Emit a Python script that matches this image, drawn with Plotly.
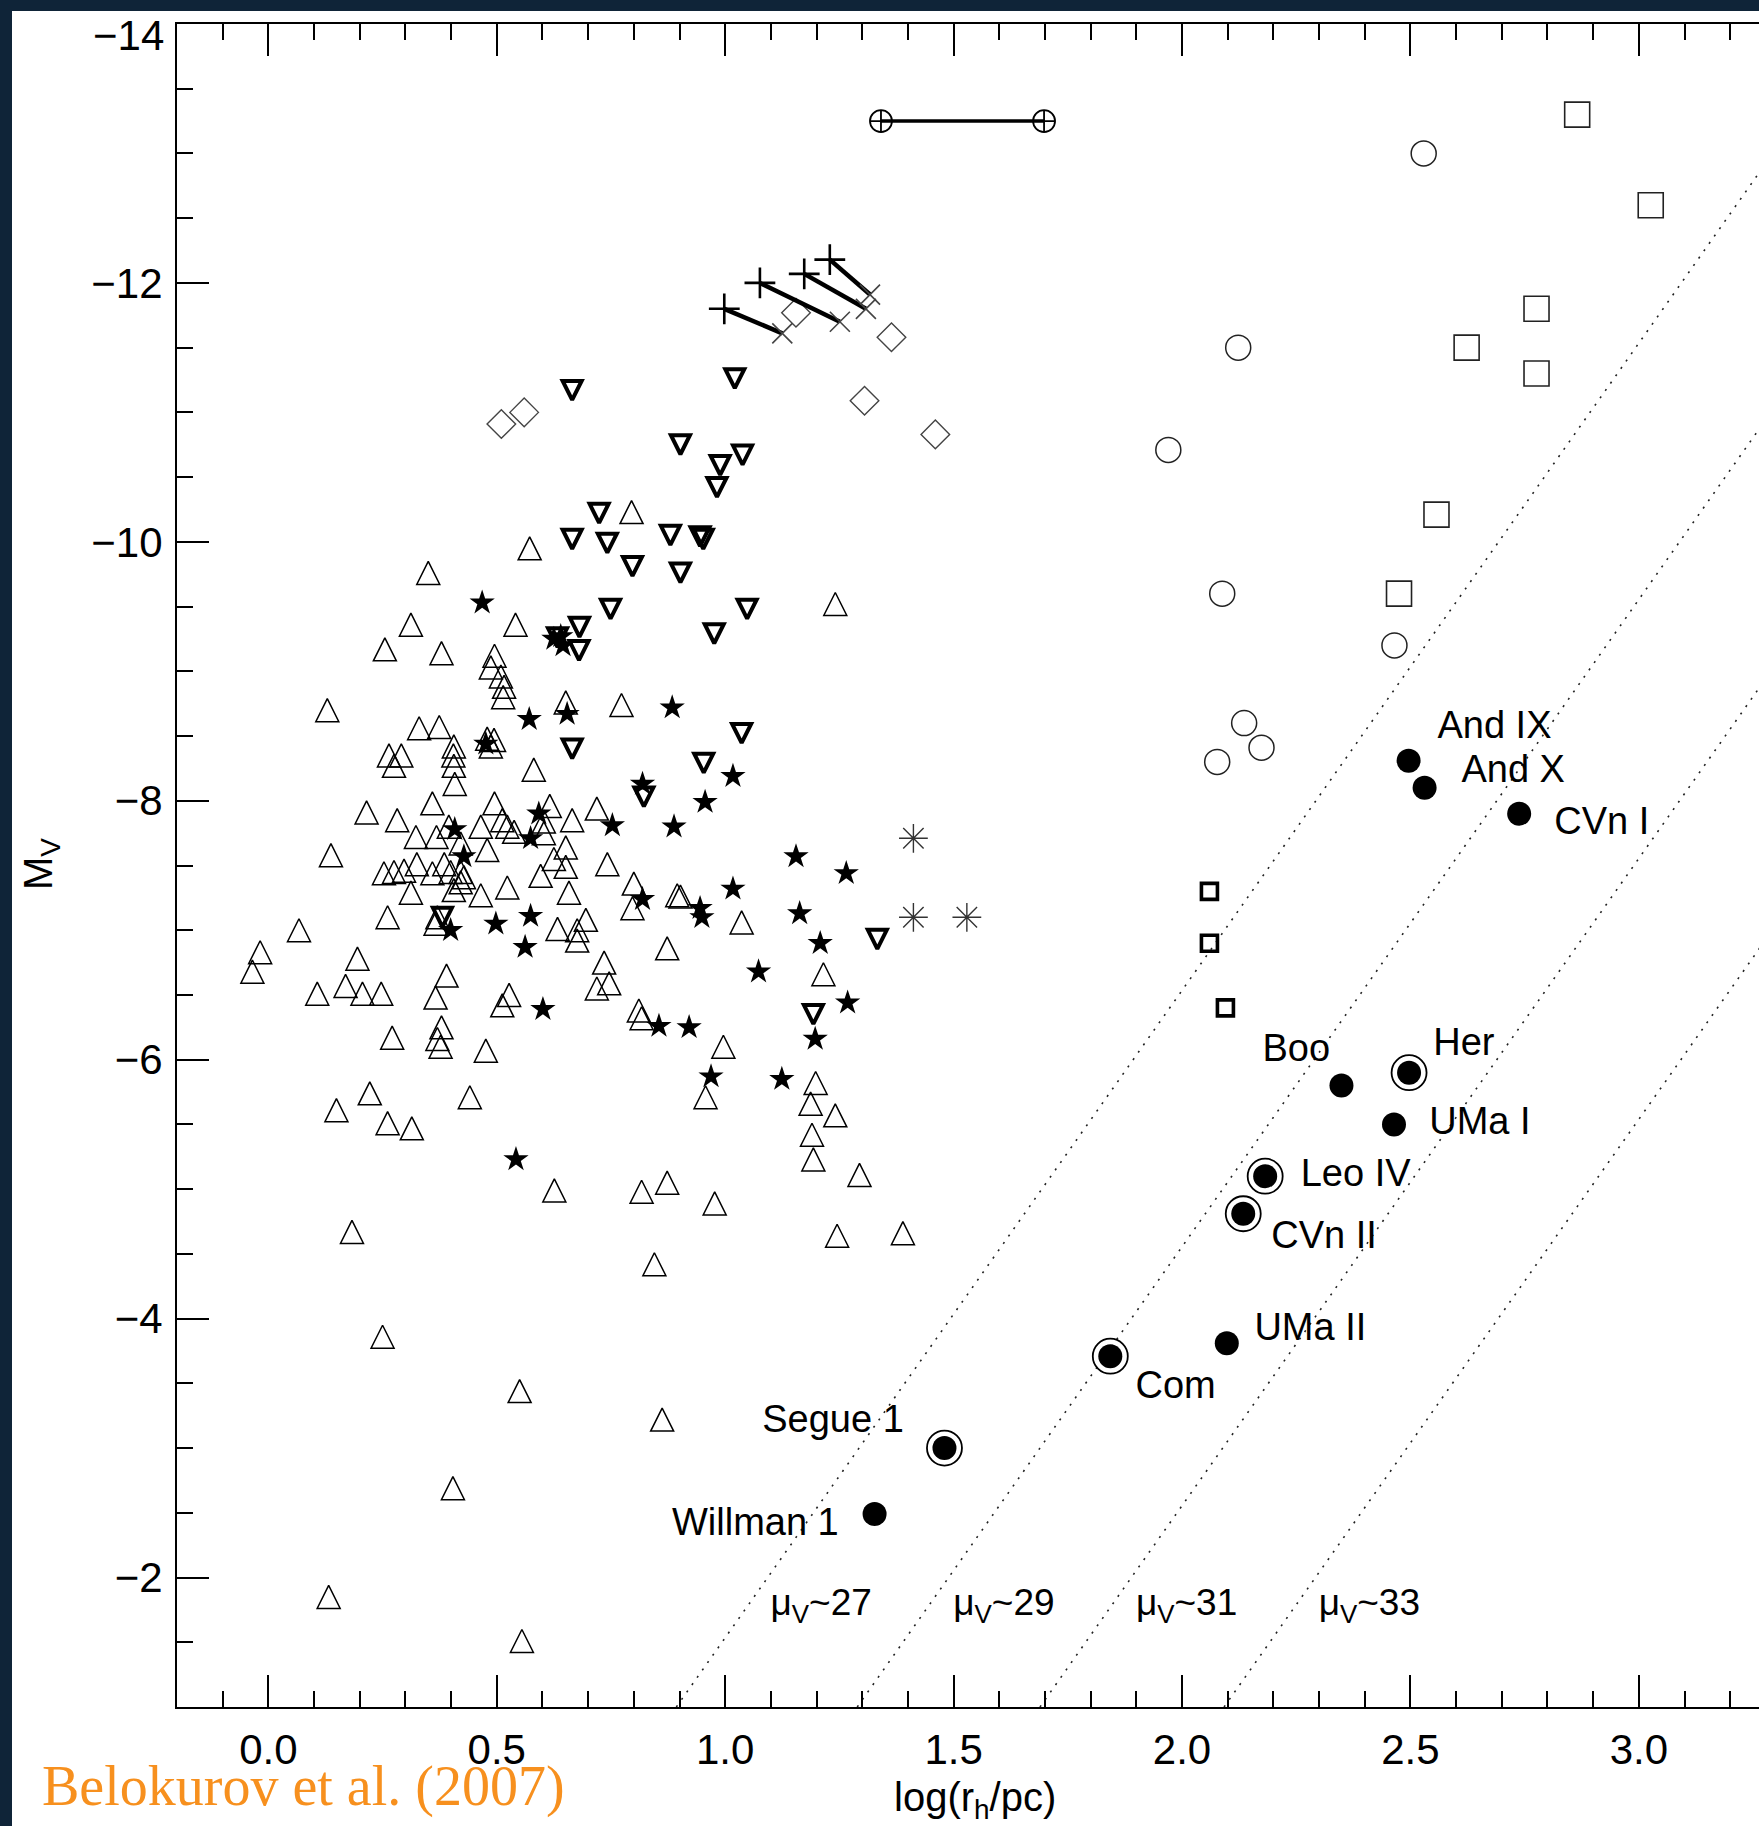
import plotly.graph_objects as go

# ---------------- data ----------------
# globular clusters (open up-triangles)
gc_x = [0.795, 0.572, 0.350, 0.312, 0.541, 1.241, 0.255, 0.379, 0.495, 0.487,
        0.509, 0.516, 0.514, 0.129, 0.651, 0.773, 0.330, 0.374, 0.406, 0.405,
        0.406, 0.408, 0.264, 0.291, 0.275, 0.479, 0.494, 0.487, 0.581, 0.215,
        0.359, 0.282, 0.495, 0.616, 0.719, 0.665, 0.512, 0.523, 0.538, 0.465,
        0.323, 0.368, 0.421, 0.395, 0.603, 0.603, 0.479, 0.651, 0.137, 0.742,
        0.253, 0.275, 0.297, 0.325, 0.359, 0.385, 0.399, 0.421, 0.428, 0.596,
        0.651, 0.625, 0.312, 0.406, 0.421, 0.465, 0.523, 0.658, 0.800, 0.797,
        0.895, 0.902, 0.261, 0.370, 0.366, 0.067, 0.633, 0.695, 0.676, 0.676,
        0.873, -0.018, -0.035, 0.195, 0.735, 0.746, 0.719, 0.107, 0.169, 0.206,
        0.247, 0.390, 0.366, 0.527, 0.512, 0.811, 0.817, 0.271, 0.379, 0.370,
        0.377, 0.476, 1.036, 1.215, 0.996, 0.149, 0.222, 0.261, 0.314, 0.441,
        0.957, 1.198, 1.187, 1.241, 1.190, 1.193, 1.294, 0.626, 0.817, 0.873,
        0.977, 0.183, 1.245, 1.389, 0.845, 0.250, 0.550, 0.862, 0.404, 0.132,
        0.555]
gc_y = [-10.23, -9.95, -9.76, -9.36, -9.36, -9.52, -9.17, -9.14, -9.12, -9.03,
        -8.96, -8.88, -8.80, -8.70, -8.76, -8.74, -8.56, -8.57, -8.42, -8.35,
        -8.27, -8.13, -8.35, -8.35, -8.27, -8.48, -8.47, -8.42, -8.24, -7.91,
        -7.98, -7.85, -7.98, -7.96, -7.94, -7.85, -7.85, -7.80, -7.76, -7.80,
        -7.72, -7.72, -7.67, -7.80, -7.84, -7.75, -7.62, -7.64, -7.58, -7.51,
        -7.44, -7.45, -7.46, -7.51, -7.44, -7.51, -7.45, -7.45, -7.41, -7.42,
        -7.49, -7.55, -7.29, -7.31, -7.37, -7.27, -7.33, -7.29, -7.36, -7.17,
        -7.27, -7.26, -7.10, -7.10, -7.05, -7.00, -7.01, -7.08, -7.00, -6.92,
        -6.86, -6.83, -6.68, -6.78, -6.75, -6.59, -6.55, -6.51, -6.57, -6.51,
        -6.51, -6.65, -6.48, -6.50, -6.42, -6.38, -6.32, -6.17, -6.25, -6.16,
        -6.10, -6.07, -7.06, -6.66, -6.10, -5.61, -5.74, -5.51, -5.47, -5.71,
        -5.71, -5.82, -5.66, -5.57, -5.42, -5.23, -5.11, -4.99, -4.98, -5.05,
        -4.89, -4.67, -4.64, -4.66, -4.42, -3.86, -3.44, -3.22, -2.69, -1.85,
        -1.51]

# filled stars
star_x = [0.468, 0.625, 0.645, 0.640, 0.571, 0.654, 0.884, 0.476, 0.592, 0.408,
          0.753, 0.888, 0.574, 0.428, 0.819, 0.574, 0.498, 0.399, 0.562, 0.601,
          0.855, 0.921, 0.819, 1.017, 0.956, 1.155, 1.265, 1.017, 0.945, 0.949,
          1.163, 1.208, 1.073, 1.268, 1.197, 0.969, 1.124, 0.542]
star_y = [-9.53, -9.25, -9.20, -9.27, -8.63, -8.67, -8.72, -8.44, -7.90, -7.78,
          -7.81, -7.80, -7.71, -7.57, -7.24, -7.11, -7.05, -7.00, -6.87, -6.39,
          -6.26, -6.25, -8.13, -8.19, -7.99, -7.57, -7.44, -7.32, -7.17, -7.10,
          -7.13, -6.90, -6.68, -6.44, -6.16, -5.87, -5.85, -5.23]

# thick open down-triangles
dtri_x = [0.665, 1.021, 0.902, 1.038, 0.989, 0.982, 0.724, 0.665, 0.742, 0.880,
          0.945, 0.952, 0.797, 0.902, 0.749, 1.048, 0.633, 0.681, 0.680, 0.665,
          0.822, 0.381, 0.976, 1.036, 0.953, 1.333, 1.193]
dtri_y = [-11.17, -11.26, -10.75, -10.67, -10.59, -10.42, -10.22, -10.02, -9.99, -10.05,
          -10.04, -10.02, -9.81, -9.76, -9.48, -9.48, -9.26, -9.34, -9.16, -8.40,
          -8.03, -7.10, -9.29, -8.52, -8.29, -6.93, -6.35]

# open diamonds
dia_x = [0.510, 0.560, 1.155, 1.364, 1.305, 1.460]
dia_y = [-10.91, -11.00, -11.77, -11.58, -11.09, -10.83]

# plus -> x pairs joined by thick lines
plus_x = [0.998, 1.076, 1.173, 1.229]
plus_y = [-11.80, -12.00, -12.07, -12.18]
xm_x = [1.125, 1.251, 1.308, 1.317]
xm_y = [-11.61, -11.70, -11.80, -11.91]

# asterisks
ast_x = [1.412, 1.412, 1.529]
ast_y = [-7.71, -7.10, -7.10]

# circle-plus pair joined by a line
cp_x = [1.341, 1.698]
cp_y = [-13.25, -13.25]

# open circles
circ_x = [2.529, 2.123, 1.970, 2.088, 2.465, 2.136, 2.174, 2.077]
circ_y = [-13.00, -11.50, -10.71, -9.60, -9.20, -8.60, -8.41, -8.30]

# open squares
sq_x = [2.865, 3.026, 2.776, 2.623, 2.776, 2.557, 2.475]
sq_y = [-13.30, -12.60, -11.80, -11.50, -11.30, -10.21, -9.60]

# thick small squares
tsq_x = [2.060, 2.060, 2.095]
tsq_y = [-7.30, -6.90, -6.40]

# named new satellites (filled circles)
sat_names = ["And IX", "And X", "CVn I", "Boo", "Her", "UMa I", "Leo IV",
             "CVn II", "UMa II", "Com", "Segue 1", "Willman 1"]
sat_x = [2.496, 2.531, 2.738, 2.349, 2.497, 2.464, 2.182, 2.134, 2.098, 1.843, 1.480, 1.327]
sat_y = [-8.31, -8.10, -7.90, -5.80, -5.90, -5.50, -5.10, -4.81, -3.81, -3.71, -3.00, -2.49]
sat_ring = [False, False, False, False, True, False, True, True, False, True, True, False]
lab_x = [2.684, 2.725, 2.919, 2.250, 2.617, 2.652, 2.380, 2.311, 2.281, 1.986, 1.236, 1.066]
lab_y = [-8.56, -8.22, -7.82, -6.06, -6.11, -5.50, -5.10, -4.62, -3.91, -3.46, -3.20, -2.40]

# constant surface-brightness lines (dotted)
mu_levels = ["27", "29", "31", "33"]
mu_x_bottom = [0.893, 1.289, 1.689, 2.092]   # at M_V = -1
mu_x_top = [3.493, 3.889, 4.289, 4.692]      # at M_V = -14
mu_y_bottom = -1.0
mu_y_top = -14.0
mu_lab_x = [1.21, 1.61, 2.01, 2.41]
mu_lab_y = -1.78

x_range = [-0.2, 3.263]
y_range = [-1.0, -14.0]
y_tick_vals = [-12, -10, -8, -6, -4, -2]
y_top_label = "\u221214"

# ---------------- figure ----------------
FONT = "Liberation Sans"
fig = go.Figure()

# dotted mu lines
lx, ly = [], []
for x0, x1 in zip(mu_x_bottom, mu_x_top):
    lx += [x0, x1, None]
    ly += [mu_y_bottom, mu_y_top, None]
fig.add_trace(go.Scatter(x=lx, y=ly, mode="lines",
                         line=dict(color="#222222", width=1.6, dash="2px,7px"),
                         hoverinfo="skip"))

TRI_UP = 23
TRI_DN = 19
# centred, equal-height triangles: arrow glyph pushed back by half its length
fig.add_trace(go.Scatter(x=gc_x, y=gc_y, mode="markers",
                         marker=dict(symbol="arrow-down-open", size=TRI_UP, angle=180,
                                     standoff=TRI_UP / 2, color="black",
                                     line=dict(width=1.5, color="black"))))
fig.add_trace(go.Scatter(x=dtri_x, y=dtri_y, mode="markers",
                         marker=dict(symbol="arrow-down-open", size=TRI_DN, angle=0,
                                     standoff=TRI_DN / 2, color="black",
                                     line=dict(width=4, color="black"))))
fig.add_trace(go.Scatter(x=star_x, y=star_y, mode="markers",
                         marker=dict(symbol="star", size=19, color="black",
                                     line=dict(width=0))))
fig.add_trace(go.Scatter(x=dia_x, y=dia_y, mode="markers",
                         marker=dict(symbol="diamond-open", size=22, color="#444444",
                                     line=dict(width=1.4, color="#444444"))))

# plus -> x segments
sx, sy = [], []
for a, b, c, d in zip(plus_x, plus_y, xm_x, xm_y):
    sx += [a, c, None]
    sy += [b, d, None]
fig.add_trace(go.Scatter(x=sx, y=sy, mode="lines",
                         line=dict(color="black", width=4.5)))
fig.add_trace(go.Scatter(x=xm_x, y=xm_y, mode="markers",
                         marker=dict(symbol="x-thin-open", size=20, color="#444444",
                                     line=dict(width=1.6, color="#444444"))))
fig.add_trace(go.Scatter(x=plus_x, y=plus_y, mode="markers",
                         marker=dict(symbol="cross-thin-open", size=22, color="black",
                                     line=dict(width=2.6, color="black"))))

fig.add_trace(go.Scatter(x=ast_x, y=ast_y, mode="markers",
                         marker=dict(symbol="asterisk-open", size=24, color="#333333",
                                     line=dict(width=1.4, color="#333333"))))

fig.add_trace(go.Scatter(x=cp_x, y=cp_y, mode="lines+markers",
                         line=dict(color="black", width=3.5),
                         marker=dict(symbol="circle-cross-open", size=22, color="black",
                                     line=dict(width=1.8, color="black"))))

fig.add_trace(go.Scatter(x=circ_x, y=circ_y, mode="markers",
                         marker=dict(symbol="circle-open", size=25, color="#222222",
                                     line=dict(width=1.5, color="#222222"))))
fig.add_trace(go.Scatter(x=sq_x, y=sq_y, mode="markers",
                         marker=dict(symbol="square-open", size=25, color="#222222",
                                     line=dict(width=1.6, color="#222222"))))
fig.add_trace(go.Scatter(x=tsq_x, y=tsq_y, mode="markers",
                         marker=dict(symbol="square-open", size=16, color="black",
                                     line=dict(width=3.6, color="black"))))

ring_x = [x for x, r in zip(sat_x, sat_ring) if r]
ring_y = [y for y, r in zip(sat_y, sat_ring) if r]
fig.add_trace(go.Scatter(x=ring_x, y=ring_y, mode="markers",
                         marker=dict(symbol="circle-open", size=35, color="black",
                                     line=dict(width=1.8, color="black"))))
fig.add_trace(go.Scatter(x=sat_x, y=sat_y, mode="markers",
                         marker=dict(symbol="circle", size=24, color="black",
                                     line=dict(width=0))))

fig.add_trace(go.Scatter(x=lab_x, y=lab_y, mode="text", text=sat_names,
                         textposition="middle center",
                         textfont=dict(family=FONT, size=38, color="black")))
fig.add_trace(go.Scatter(x=mu_lab_x, y=[mu_lab_y] * len(mu_lab_x), mode="text",
                         text=["\u03bc<sub>V</sub>~" + m for m in mu_levels],
                         textposition="middle center",
                         textfont=dict(family=FONT, size=37, color="black")))

W, H = 1759, 1826
ML, MT, MB = 177, 24, 119
pw, ph = W - ML, H - MT - MB
BG = "#0f2438"


def px_to_paper_x(px):
    return (px - ML) / pw


def px_to_paper_y(py):
    return (H - MB - py) / ph


shapes = [dict(type="rect", xref="paper", yref="paper",
               x0=px_to_paper_x(12), x1=1.02, y0=px_to_paper_y(H + 5), y1=px_to_paper_y(11),
               fillcolor="white", line=dict(width=0), layer="below")]

annotations = [
    # top y tick label, nudged below the frame as in the original
    dict(text=y_top_label, xref="paper", yref="y",
         x=px_to_paper_x(165), y=y_range[1], yshift=-11,
         showarrow=False, xanchor="right", yanchor="middle", borderpad=0,
         font=dict(family=FONT, size=42, color="black")),
    dict(text="M<sub>V</sub>", xref="paper", yref="paper",
         x=px_to_paper_x(41), y=px_to_paper_y(864), textangle=-90,
         showarrow=False, xanchor="center", yanchor="middle",
         font=dict(family=FONT, size=40, color="black")),
    dict(text="log(r<sub>h</sub>/pc)", xref="paper", yref="paper",
         x=px_to_paper_x(975), y=px_to_paper_y(1800),
         showarrow=False, xanchor="center", yanchor="middle",
         font=dict(family=FONT, size=40, color="black")),
    dict(text="Belokurov et al. (2007)", xref="paper", yref="paper",
         x=px_to_paper_x(40), y=px_to_paper_y(1786),
         showarrow=False, xanchor="left", yanchor="middle",
         font=dict(family="Liberation Serif", size=56, color="#F7901E")),
]

fig.update_layout(
    width=W, height=H,
    margin=dict(l=ML, r=0, t=MT, b=MB, pad=0),
    paper_bgcolor=BG,
    plot_bgcolor="white",
    showlegend=False,
    shapes=shapes,
    annotations=annotations,
    xaxis=dict(range=x_range, tickmode="linear", tick0=0, dtick=0.5, tickformat=".1f",
               ticks="inside", ticklen=32, tickwidth=2, tickcolor="black",
               showline=True, linewidth=2, linecolor="black", mirror="ticks",
               showgrid=False, zeroline=False, ticklabelstandoff=5,
               tickfont=dict(family=FONT, size=42, color="black"),
               minor=dict(tickmode="linear", tick0=0, dtick=0.1, ticks="inside",
                          ticklen=16, tickwidth=2, tickcolor="black", showgrid=False)),
    yaxis=dict(range=y_range, tickmode="array", tickvals=y_tick_vals,
               ticktext=["\u2212" + str(abs(v)) for v in y_tick_vals],
               ticks="inside", ticklen=32, tickwidth=2, tickcolor="black",
               showline=True, linewidth=2, linecolor="black", mirror=False,
               showgrid=False, zeroline=False, ticklabelstandoff=4,
               tickfont=dict(family=FONT, size=42, color="black"),
               minor=dict(tickmode="linear", tick0=-14, dtick=0.5, ticks="inside",
                          ticklen=16, tickwidth=2, tickcolor="black", showgrid=False)),
)

fig.write_html(
    "out.html",
    config={"displayModeBar": False},
    post_script=("document.body.style.margin='0';document.body.style.padding='0';"
                 "document.body.style.background='" + BG + "';"),
)
